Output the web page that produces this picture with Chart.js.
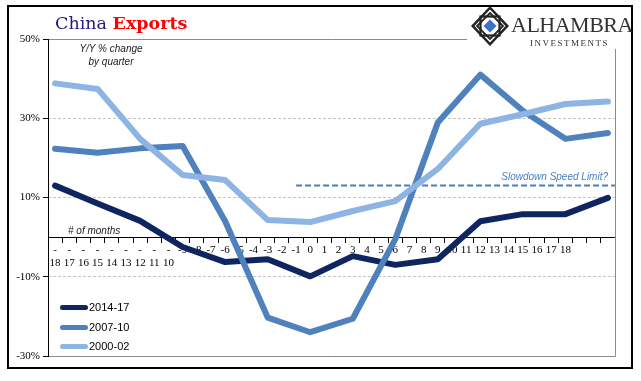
<!DOCTYPE html>
<html><head><meta charset="utf-8">
<script src="https://cdn.jsdelivr.net/npm/chart.js@4.4.0/dist/chart.umd.min.js"></script>
<style>
html,body{margin:0;padding:0;background:#fff;}
#wrap{position:relative;width:641px;height:381px;overflow:hidden;background:#fff;}
#c{position:absolute;left:0;top:0;}
.t{position:absolute;white-space:nowrap;line-height:1;}
.ann{font-family:"Liberation Sans",Arial,sans-serif;font-style:italic;font-size:10px;color:#1a1a1a;}
.leg{font-family:"Liberation Sans Narrow","Liberation Sans",Arial,sans-serif;font-size:11px;color:#000;}
.sw{position:absolute;left:60px;width:28px;height:5px;border-radius:3px;}
</style></head><body>
<div id="wrap">
<canvas id="c" width="641" height="381"></canvas>
<div style="position:absolute;left:467px;top:8px;width:164px;height:41px;background:#fff;"></div>
<div style="position:absolute;left:7px;top:5px;width:626px;height:364px;border:2px solid #000;box-sizing:border-box;"></div>
<div class="t" style="left:55px;top:15px;font-family:'DejaVu Serif',serif;font-size:17.5px;"><span style="color:#1f1f7a;">China</span> <span style="color:#ff0000;font-weight:bold;">Exports</span></div>
<svg style="position:absolute;left:470px;top:5px;" width="40" height="42" viewBox="0 0 40 42">
<polygon points="20,1 39,21 20,41 1,21" fill="#222"/>
<polygon points="20,4.5 35.5,21 20,37.5 4.5,21" fill="#fff"/>
<rect x="10.5" y="11.5" width="19" height="19" fill="none" stroke="#222" stroke-width="2.2"/>
<polygon points="20,8 33,21 20,34 7,21" fill="none" stroke="#222" stroke-width="1.8"/>
<polygon points="20,14.5 26.5,21 20,27.5 13.5,21" fill="#3d72c8"/>
</svg>
<div class="t" style="left:511px;top:14px;font-family:'Liberation Serif',serif;font-size:22px;letter-spacing:-0.5px;color:#333;">ALHAMBRA</div>
<div class="t" style="left:530px;top:38.5px;font-family:'Liberation Serif',serif;font-size:9px;letter-spacing:1.5px;color:#333;">INVESTMENTS</div>
<div class="t ann" style="left:61px;width:100px;text-align:center;top:44px;">Y/Y % change</div>
<div class="t ann" style="left:61px;width:100px;text-align:center;top:57px;">by quarter</div>
<div class="t ann" style="left:68px;top:226px;"># of months</div>
<div class="t ann" style="right:33px;top:172px;color:#4a7ebb;">Slowdown Speed Limit?</div>
<div class="sw" style="top:304.5px;background:#0e2560;"></div>
<div class="sw" style="top:324.5px;background:#4f81bd;"></div>
<div class="sw" style="top:343.5px;background:#8db4e2;"></div>
<div class="t leg" style="left:89px;top:301.5px;">2014-17</div>
<div class="t leg" style="left:89px;top:321.5px;">2007-10</div>
<div class="t leg" style="left:89px;top:340.5px;">2000-02</div>
</div>
<script>
// months relative to trough (category axis)
const categories = [-18,-17,-16,-15,-14,-13,-12,-11,-10,-9,-8,-7,-6,-5,-4,-3,-2,-1,0,1,2,3,4,5,6,7,8,9,10,11,12,13,14,15,16,17,18,19,20,21];
// quarterly observation months
const quarterMonths = [-18,-15,-12,-9,-6,-3,0,3,6,9,12,15,18,21];
const series2014_17 = [13.0, 8.5, 4.1, -2.5, -6.3, -5.6, -9.9, -4.8, -7.0, -5.6, 4.0, 5.8, 5.8, 9.9];
const series2007_10 = [22.3, 21.3, 22.4, 23.0, 4.0, -20.3, -24.0, -20.6, -0.5, 28.9, 41.0, 31.9, 24.8, 26.3];
const series2000_02 = [38.8, 37.4, 24.8, 15.7, 14.4, 4.3, 3.8, 6.6, 9.1, 17.2, 28.6, 31.0, 33.6, 34.2];
const yTicks = [-30, -10, 10, 30, 50];
const speedLimit = 13;
const speedLimitFrom = -1;

function pts(vals){ return quarterMonths.map((m,i)=>({x:String(m), y:vals[i]})); }

const plotFrame = {
  id:'plotFrame',
  beforeDatasetsDraw(chart){
    const {ctx, chartArea:a, scales} = chart;
    ctx.save();
    ctx.lineWidth = 1;
    ctx.strokeStyle = '#8c8c8c';
    ctx.beginPath();
    ctx.moveTo(a.left, Math.round(a.top)+0.5);
    ctx.lineTo(Math.round(a.right)+0.5, Math.round(a.top)+0.5);
    ctx.lineTo(Math.round(a.right)+0.5, Math.round(a.bottom)+0.5);
    ctx.lineTo(a.left, Math.round(a.bottom)+0.5);
    ctx.stroke();
    ctx.strokeStyle = '#000';
    ctx.beginPath();
    ctx.moveTo(Math.round(a.left)+0.5, a.top);
    ctx.lineTo(Math.round(a.left)+0.5, a.bottom+1);
    ctx.stroke();
    // speed limit dashed reference line
    const yv = scales.y.getPixelForValue(speedLimit);
    const x0 = scales.x.getPixelForValue(categories.indexOf(speedLimitFrom));
    ctx.strokeStyle = '#4a7ebb';
    ctx.lineWidth = 2;
    ctx.setLineDash([6,3]);
    ctx.beginPath();
    ctx.moveTo(x0, yv);
    ctx.lineTo(a.right, yv);
    ctx.stroke();
    ctx.restore();
  }
};

const common = {borderWidth:6, pointRadius:0, tension:0, spanGaps:true, borderCapStyle:'round', borderJoinStyle:'round', fill:false};

new Chart(document.getElementById('c'), {
  type:'line',
  data:{
    labels: categories.map(String),
    datasets:[
      Object.assign({label:'2014-17', data:pts(series2014_17), borderColor:'#0e2560', order:2}, common),
      Object.assign({label:'2007-10', data:pts(series2007_10), borderColor:'#4f81bd', order:1}, common),
      Object.assign({label:'2000-02', data:pts(series2000_02), borderColor:'#8db4e2', order:0}, common)
    ]
  },
  options:{
    responsive:false,
    animation:false,
    events:[],
    layout:{padding:{top:39, right:26, bottom:25, left:0}},
    plugins:{legend:{display:false}, tooltip:{enabled:false}, title:{display:false}},
    scales:{
      x:{
        type:'category',
        offset:true,
        position:{y:0},
        grid:{drawOnChartArea:false, offset:true, tickLength:5, color:'#000', tickColor:'#000'},
        border:{display:true, color:'#000', width:1},
        ticks:{
          autoSkip:false, maxRotation:0, minRotation:0, padding:2, color:'#000',
          font:{family:'Liberation Serif', size:11, lineHeight:1.15},
          callback:function(v,i){ const n = categories[i]; if (n > 18) return ''; if (n <= -10) return ['-', String(-n)]; return String(n); }
        }
      },
      y:{
        min:yTicks[0], max:yTicks[yTicks.length-1],
        afterFit(s){ s.width = 48; },
        afterBuildTicks(s){ s.ticks = yTicks.map(v=>({value:v})); },
        ticks:{padding:3, color:'#000', font:{family:'Liberation Serif', size:11}, callback:v=>v+'%'},
        grid:{
          color:(ctx)=> (ctx.tick && (ctx.tick.value===50 || ctx.tick.value===-30)) ? 'rgba(0,0,0,0)' : '#c4c4c4',
          tickColor:'#000', tickLength:5, tickBorderDash:[]
        },
        border:{display:false, dash:[3,2]}
      }
    }
  },
  plugins:[plotFrame]
});
</script>
</body></html>
